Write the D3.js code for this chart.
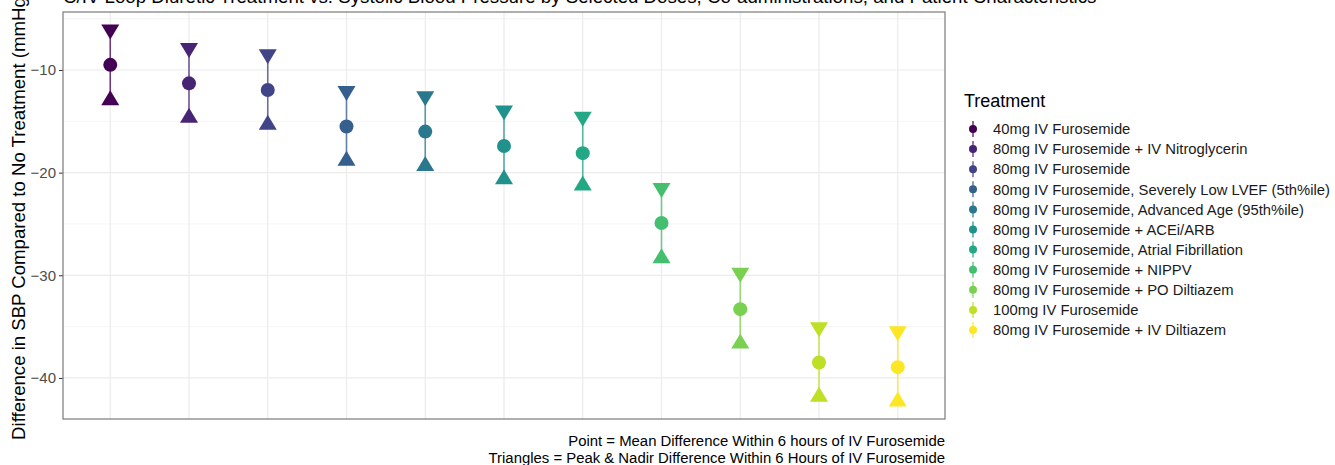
<!DOCTYPE html>
<html lang="en">
<head>
    <meta charset="UTF-8">
    <title>Loop Diuretic vs SBP</title>
    <script src="https://cdnjs.cloudflare.com/ajax/libs/d3/7.8.5/d3.min.js"></script>
    <style>
        body { margin: 0; background: #fff; }
        text { font-family: "Liberation Sans", Arial, sans-serif; }
    </style>
</head>
<body>
    <div id="chart"></div>
    <script>
        // data
        const treatments = [
            '40mg IV Furosemide',
            '80mg IV Furosemide + IV Nitroglycerin',
            '80mg IV Furosemide',
            '80mg IV Furosemide, Severely Low LVEF (5th%ile)',
            '80mg IV Furosemide, Advanced Age (95th%ile)',
            '80mg IV Furosemide + ACEi/ARB',
            '80mg IV Furosemide, Atrial Fibrillation',
            '80mg IV Furosemide + NIPPV',
            '80mg IV Furosemide + PO Diltiazem',
            '100mg IV Furosemide',
            '80mg IV Furosemide + IV Diltiazem'
        ]
        const meanDiff = [-9.5, -11.3, -11.95, -15.5, -16.0, -17.4, -18.1, -24.9, -33.3, -38.5, -38.95]
        const peakDiff = [-6.3, -8.1, -8.7, -12.3, -12.8, -14.2, -14.8, -21.75, -30.0, -35.3, -35.7]
        const nadirDiff = [-12.7, -14.4, -15.1, -18.6, -19.1, -20.4, -21.0, -28.1, -36.4, -41.6, -42.05]
        const yTicks = [-10, -20, -30, -40]
        const yMinor = [-5, -15, -25, -35]

        const width = 1335, height = 465
        const margin = { left: 63, right: 390, top: 12, bottom: 46 }
        const panelW = width - margin.left - margin.right
        const panelH = height - margin.top - margin.bottom

        const svg = d3.select('#chart').append('svg')
            .attr('width', width)
            .attr('height', height)

        const colors = treatments.map((t, i) => d3.interpolateViridis(i / (treatments.length - 1)))

        // discrete x with ggplot-like 0.6 expansion
        const x = d3.scalePoint()
            .domain(treatments)
            .range([margin.left, margin.left + panelW])
            .padding(0.6)

        const y = d3.scaleLinear()
            .domain([-44.0, -4.35])
            .range([margin.top + panelH, margin.top])

        // grid
        const grid = svg.append('g')
        grid.selectAll('.minor').data(yMinor).enter().append('line')
            .attr('x1', margin.left).attr('x2', margin.left + panelW)
            .attr('y1', d => y(d)).attr('y2', d => y(d))
            .attr('stroke', '#f3f3f3').attr('stroke-width', 0.8)
        grid.selectAll('.major').data(yTicks).enter().append('line')
            .attr('x1', margin.left).attr('x2', margin.left + panelW)
            .attr('y1', d => y(d)).attr('y2', d => y(d))
            .attr('stroke', '#ebebeb').attr('stroke-width', 1.2)
        grid.selectAll('.vmajor').data(treatments).enter().append('line')
            .attr('x1', d => x(d)).attr('x2', d => x(d))
            .attr('y1', margin.top).attr('y2', margin.top + panelH)
            .attr('stroke', '#ebebeb').attr('stroke-width', 1.2)

        // y axis
        const yAxis = svg.append('g')
            .attr('transform', `translate(${margin.left},0)`)
            .call(d3.axisLeft(y).tickValues(yTicks).tickSize(4).tickPadding(3)
                .tickFormat(d => String(d).replace('-', '\u2212')))
        yAxis.select('.domain').remove()
        yAxis.selectAll('line').attr('stroke', '#333')
        yAxis.selectAll('text').attr('fill', '#4d4d4d').style('font-size', '15px')
            .style('font-family', '"Liberation Sans", Arial, sans-serif')

        // ranges
        const rows = treatments.map((t, i) => ({ t, i, mean: meanDiff[i], peak: peakDiff[i], nadir: nadirDiff[i] }))
        const marks = svg.append('g')
        marks.selectAll('.range').data(rows).enter().append('line')
            .attr('x1', d => x(d.t)).attr('x2', d => x(d.t))
            .attr('y1', d => y(d.peak)).attr('y2', d => y(d.nadir))
            .attr('stroke', d => colors[d.i]).attr('stroke-width', 1.6).attr('opacity', 0.75)

        const tw = 9, th = 15
        marks.selectAll('.peak').data(rows).enter().append('path')
            .attr('transform', d => `translate(${x(d.t)},${y(d.peak)})`)
            .attr('d', `M${-tw},${-th / 2}L${tw},${-th / 2}L0,${th / 2}Z`)
            .attr('fill', d => colors[d.i])
        marks.selectAll('.nadir').data(rows).enter().append('path')
            .attr('transform', d => `translate(${x(d.t)},${y(d.nadir)})`)
            .attr('d', `M${-tw},${th / 2}L${tw},${th / 2}L0,${-th / 2}Z`)
            .attr('fill', d => colors[d.i])
        marks.selectAll('.mean').data(rows).enter().append('circle')
            .attr('cx', d => x(d.t)).attr('cy', d => y(d.mean)).attr('r', 7)
            .attr('fill', d => colors[d.i])

        // panel border
        svg.append('rect')
            .attr('x', margin.left).attr('y', margin.top)
            .attr('width', panelW).attr('height', panelH)
            .attr('fill', 'none').attr('stroke', '#7a7a7a').attr('stroke-width', 1.2)

        // title (cropped at top in the reference)
        svg.append('text')
            .attr('x', margin.left).attr('y', 3)
            .style('font-size', '18.7px').attr('fill', '#000')
            .text('C/IV Loop Diuretic Treatment vs. Systolic Blood Pressure by Selected Doses, Co-administrations, and Patient Characteristics')

        // y title
        svg.append('text')
            .attr('transform', `translate(25,${margin.top + panelH / 2}) rotate(-90)`)
            .attr('text-anchor', 'middle')
            .style('font-size', '18.6px').attr('fill', '#000')
            .text('Difference in SBP Compared to No Treatment (mmHg)')

        // caption
        const caption = ['Point = Mean Difference Within 6 hours of IV Furosemide',
            'Triangles = Peak & Nadir Difference Within 6 Hours of IV Furosemide']
        svg.selectAll('.cap').data(caption).enter().append('text')
            .attr('x', margin.left + panelW).attr('y', (d, i) => 446 + i * 16.5)
            .attr('text-anchor', 'end')
            .style('font-size', '14.9px').attr('fill', '#000')
            .text(d => d)

        // legend
        const legend = svg.append('g').attr('transform', 'translate(964,0)')
        legend.append('text').attr('x', 0).attr('y', 107)
            .style('font-size', '18px').attr('fill', '#000').text('Treatment')
        const items = legend.selectAll('.item').data(rows).enter().append('g')
            .attr('transform', d => `translate(0,${129 + d.i * 20.1})`)
        items.append('line')
            .attr('x1', 9).attr('x2', 9).attr('y1', -8).attr('y2', 8)
            .attr('stroke', d => colors[d.i]).attr('stroke-width', 1.2)
        items.append('circle').attr('cx', 9).attr('cy', 0).attr('r', 4)
            .attr('fill', d => colors[d.i])
        items.append('text').attr('x', 29).attr('y', 5.2)
            .style('font-size', '14.8px').attr('fill', '#1a1a1a')
            .text(d => d.t)
    </script>
</body>
</html>
